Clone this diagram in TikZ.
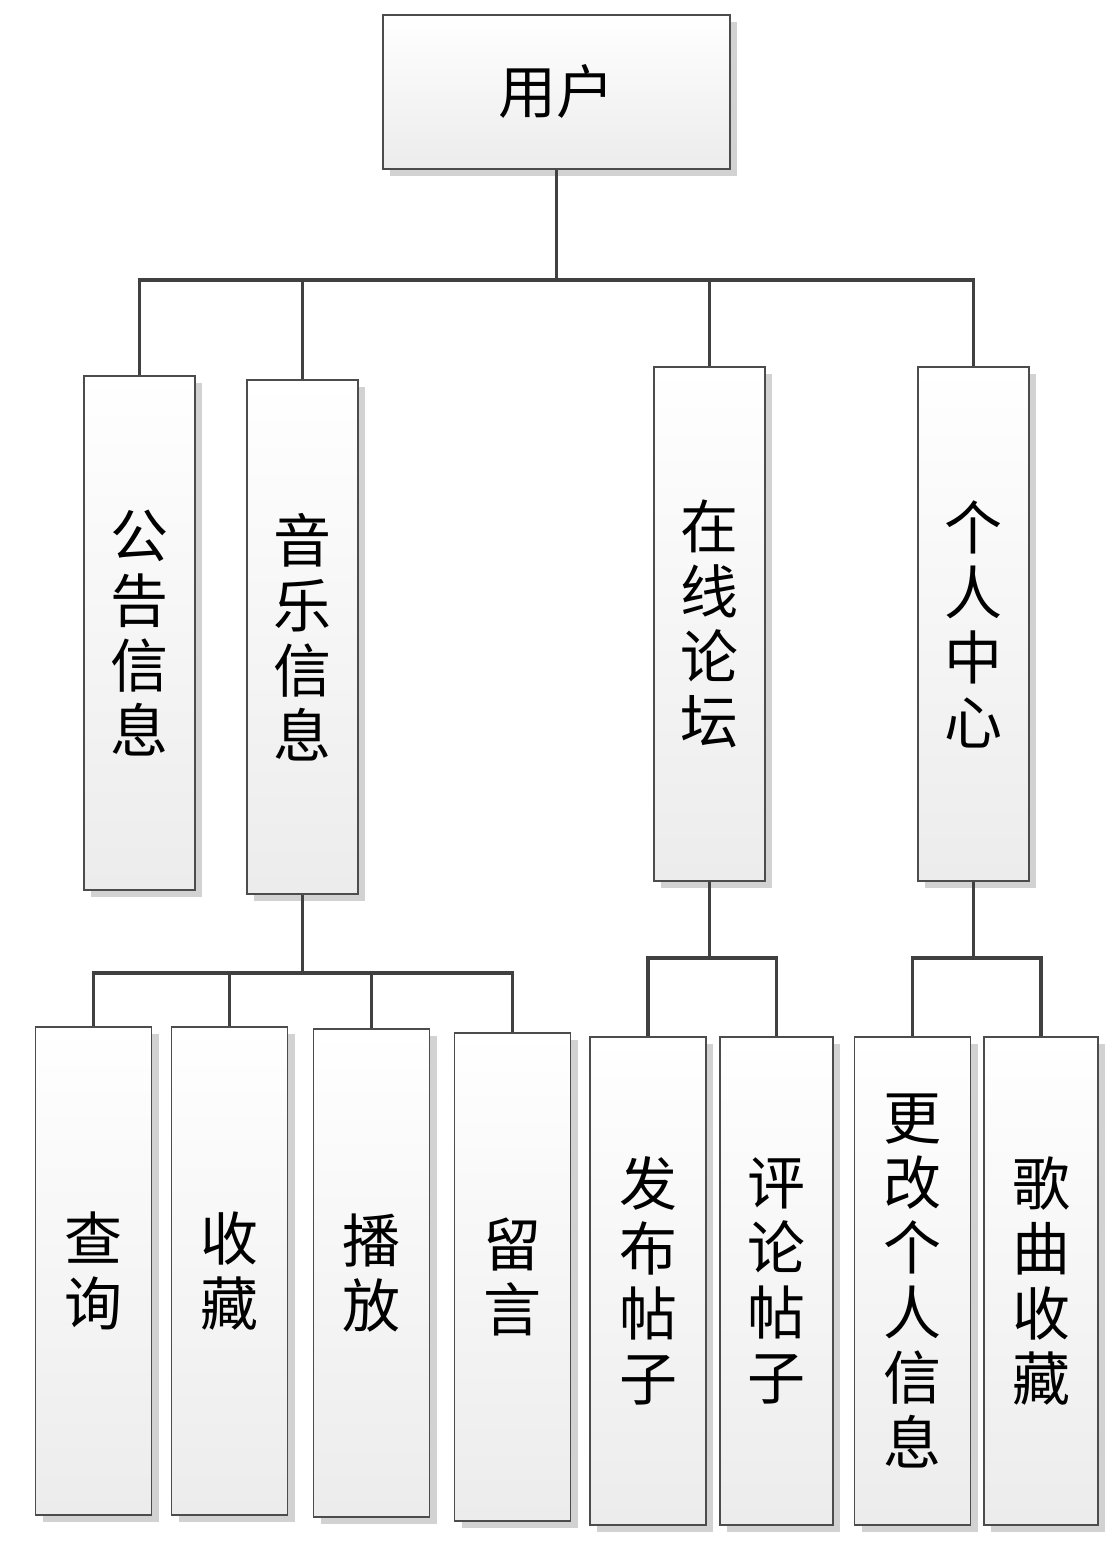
\documentclass[tikz,border=0pt]{standalone}
\usepackage{fontspec}
\setmainfont{Noto Sans CJK SC}
\usetikzlibrary{positioning,shadows}

\tikzset{
    box/.style={draw=black!70, line width=0.6pt, top color=white, bottom color=gray!15,
        drop shadow={fill=gray!35, shadow xshift=4pt, shadow yshift=-4pt, opacity=1},
        font=\fontsize{33}{37}\selectfont, align=center, inner sep=0pt},
    link/.style={draw=black!75, line width=2.2pt}
}

\begin{document}
\begin{tikzpicture}[x=0.02cm, y=-0.02cm]
    \useasboundingbox (0,0) rectangle (1119,1557);

    % Top node
    \node[box, minimum width=347*0.02cm, minimum height=154*0.02cm] (user) at (556.5,92) {用户};

    % Second level
    \tikzset{mid/.style={box, minimum width=111*0.02cm, minimum height=514*0.02cm}}
    \node[mid] (notice) at (139.5,633) {公\\告\\信\\息};
    \node[mid] (music) at (302.5,637) {音\\乐\\信\\息};
    \node[mid] (forum) at (709.5,624) {在\\线\\论\\坛};
    \node[mid] (home) at (973.5,624) {个\\人\\中\\心};

    % Third level
    \tikzset{leaf/.style={box, minimum width=116*0.02cm, minimum height=488*0.02cm}}
    \node[leaf] (query) at (93.5,1271) {查\\询};
    \node[leaf] (fav) at (229.5,1271) {收\\藏};
    \node[leaf] (play) at (371.5,1273) {播\\放};
    \node[leaf] (msg) at (512.5,1277) {留\\言};
    \node[leaf] (post) at (648,1281) {发\\布\\帖\\子};
    \node[leaf, minimum width=113*0.02cm] (reply) at (776.5,1281) {评\\论\\帖\\子};
    \node[leaf] (edit) at (912.5,1281) {更\\改\\个\\人\\信\\息};
    \node[leaf, minimum width=114*0.02cm] (songs) at (1041,1281) {歌\\曲\\收\\藏};

    % Buses
    \coordinate (busA) at (556.5,280);
    \coordinate (busB) at (302.5,973);
    \coordinate (busC) at (709.5,958);
    \coordinate (busD) at (973.5,958);

    % Connectors
    \draw[link] (user.south) -- (busA);
    \foreach \n in {notice,music,forum,home}
        \draw[link] (\n.north) |- (busA);
    \draw[link] (music.south) -- (busB);
    \foreach \n in {query,fav,play,msg}
        \draw[link] (\n.north) |- (busB);
    \draw[link] (forum.south) -- (busC);
    \foreach \n in {post,reply}
        \draw[link] (\n.north) |- (busC);
    \draw[link] (home.south) -- (busD);
    \foreach \n in {edit,songs}
        \draw[link] (\n.north) |- (busD);
\end{tikzpicture}
\end{document}
